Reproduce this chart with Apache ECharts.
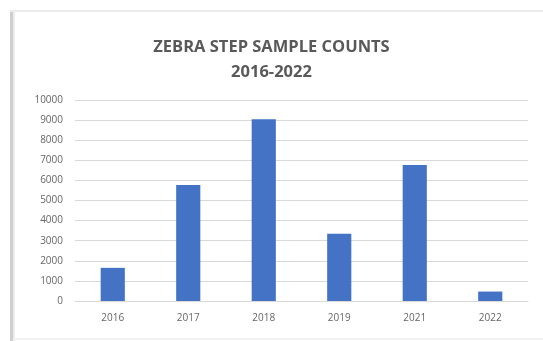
<!DOCTYPE html>
<html>
<head>
<meta charset="utf-8">
<style>
  html, body { margin: 0; padding: 0; background: #ffffff; }
  #chart { width: 543px; height: 341px; }
</style>
<script src="https://cdn.jsdelivr.net/npm/echarts@6/dist/echarts.min.js"></script>
</head>
<body>
<div id="chart"></div>
<script>
// Zebra step sample counts per year
const years = ['2016', '2017', '2018', '2019', '2021', '2022'];
const sampleCounts = [1650, 5770, 9040, 3340, 6770, 470];
const yTicks = { min: 0, max: 10000, interval: 1000 };

const chart = echarts.init(document.getElementById('chart'), null, { renderer: 'canvas' });

chart.setOption({
  backgroundColor: '#ffffff',
  animation: false,
  title: {
    text: 'ZEBRA STEP SAMPLE COUNTS\n2016-2022',
    left: 'center',
    top: 30,
    textStyle: {
      fontFamily: 'Open Sans',
      fontWeight: 'bold',
      fontSize: 16.5,
      lineHeight: 25,
      color: '#595959'
    }
  },
  graphic: [
    // card frame: shaded left edge, faint top and bottom edges
    { type: 'rect', shape: { x: 10, y: 10, width: 3, height: 331 }, style: { fill: '#cfcfcf' } },
    { type: 'rect', shape: { x: 13, y: 10, width: 2, height: 331 }, style: { fill: '#ececec' } },
    { type: 'rect', shape: { x: 10, y: 10, width: 533, height: 2 }, style: { fill: '#ececec' } },
    { type: 'rect', shape: { x: 13, y: 338, width: 530, height: 2 }, style: { fill: '#f2f2f2' } }
  ],
  grid: { left: 75, right: 15, top: 100, bottom: 40, containLabel: false },
  xAxis: {
    type: 'category',
    data: years,
    axisLine: { lineStyle: { color: '#d9d9d9', width: 1 } },
    axisTick: { show: false },
    axisLabel: {
      color: '#666666',
      fontFamily: 'Open Sans',
      fontSize: 10,
      margin: 12
    }
  },
  yAxis: {
    type: 'value',
    min: yTicks.min,
    max: yTicks.max,
    interval: yTicks.interval,
    axisLine: { show: false },
    axisTick: { show: false },
    splitLine: { lineStyle: { color: '#d9d9d9', width: 1 } },
    axisLabel: {
      color: '#666666',
      fontFamily: 'Open Sans',
      fontSize: 10,
      margin: 12,
      formatter: (v) => String(v)
    }
  },
  series: [{
    type: 'bar',
    data: sampleCounts,
    barWidth: '32%',
    itemStyle: { color: '#4472c4' }
  }]
});
</script>
</body>
</html>
